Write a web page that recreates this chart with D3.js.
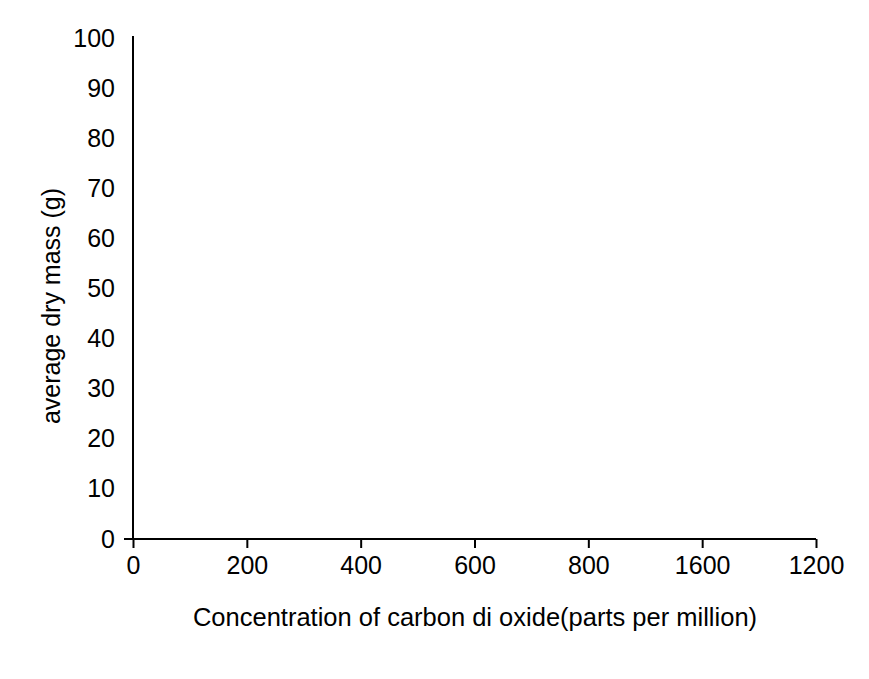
<!DOCTYPE html>
<html>
<head>
<meta charset="utf-8">
<script src="https://cdn.jsdelivr.net/npm/d3@7/dist/d3.min.js"></script>
<style>
  body { margin: 0; background: #fff; }
  text { font-family: "Liberation Sans", Arial, sans-serif; fill: #000; }
</style>
</head>
<body>
<div id="chart"></div>
<script>
// x categories exactly as printed (note the odd 1600 before 1200)
const xLabels = ['0', '200', '400', '600', '800', '1600', '1200'];
const yTicks = [0, 10, 20, 30, 40, 50, 60, 70, 80, 90, 100];
const xTitle = 'Concentration of carbon di oxide(parts per million)';
const yTitle = 'average dry mass (g)';

const width = 869, height = 679;
const mLeft = 133, mRight = 816, mTop = 38, mBottom = 539;
const fontSize = '25px';

const svg = d3.select('#chart').append('svg')
  .attr('width', width)
  .attr('height', height)

const x = d3.scalePoint()
  .domain(xLabels)
  .range([mLeft, mRight]);
const y = d3.scaleLinear()
  .domain([0, 100])
  .range([mBottom, mTop]);

// x axis
const xAxis = svg.append('g')
  .attr('transform', `translate(0, ${mBottom})`)
  .call(d3.axisBottom(x).tickSize(9).tickPadding(8).tickSizeOuter(0));
xAxis.attr('font-size', null).attr('font-family', null);
xAxis.select('.domain').remove();
xAxis.append('line')
  .attr('x1', mLeft - 9).attr('x2', mRight)
  .attr('stroke', '#000').attr('stroke-width', 2);
xAxis.selectAll('.tick line').attr('stroke', '#000').attr('stroke-width', 2);
xAxis.selectAll('.tick text')
  .style('font-size', fontSize)
  .attr('fill', '#000');

// y axis (no tick marks)
const yAxis = svg.append('g')
  .attr('transform', `translate(${mLeft}, 0)`)
  .call(d3.axisLeft(y).tickValues(yTicks).tickSize(0).tickPadding(18));
yAxis.attr('font-size', null).attr('font-family', null);
yAxis.select('.domain').remove();
yAxis.append('line')
  .attr('y1', mTop - 2).attr('y2', mBottom)
  .attr('stroke', '#000').attr('stroke-width', 2);
yAxis.selectAll('.tick text')
  .style('font-size', fontSize)
  .attr('fill', '#000');

svg.append('text')
  .attr('x', 475)
  .attr('y', 626)
  .attr('text-anchor', 'middle')
  .style('font-size', '25.5px')
  .text(xTitle);

svg.append('text')
  .attr('transform', 'translate(60, 306) rotate(-90)')
  .attr('text-anchor', 'middle')
  .style('font-size', fontSize)
  .text(yTitle);
</script>
</body>
</html>
